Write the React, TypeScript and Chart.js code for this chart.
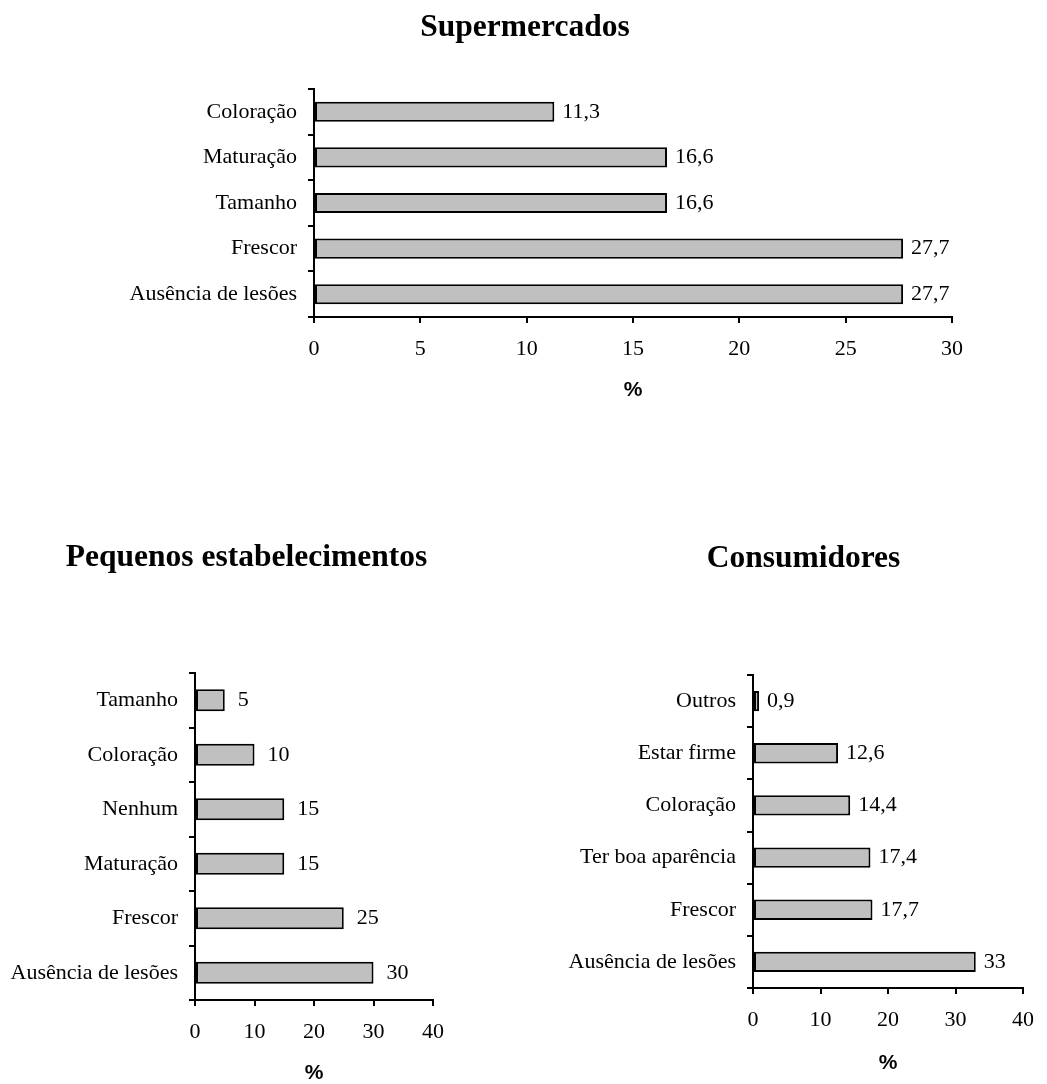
import React, { useEffect, useRef } from 'react';
import { Chart, registerables } from 'chart.js';

Chart.register(...registerables);

// ---------- data ----------
const superTitle = 'Supermercados';
const superLabels = ['Coloração', 'Maturação', 'Tamanho', 'Frescor', 'Ausência de lesões'];
const superValues = [11.3, 16.6, 16.6, 27.7, 27.7];
const superTicks = [0, 5, 10, 15, 20, 25, 30];

const pequenosTitle = 'Pequenos estabelecimentos';
const pequenosLabels = ['Tamanho', 'Coloração', 'Nenhum', 'Maturação', 'Frescor', 'Ausência de lesões'];
const pequenosValues = [5, 10, 15, 15, 25, 30];
const pequenosTicks = [0, 10, 20, 30, 40];

const consumTitle = 'Consumidores';
const consumLabels = ['Outros', 'Estar firme', 'Coloração', 'Ter boa aparência', 'Frescor', 'Ausência de lesões'];
const consumValues = [0.9, 12.6, 14.4, 17.4, 17.7, 33];
const consumTicks = [0, 10, 20, 30, 40];

const axisTitle = '%';

// ---------- styling ----------
const SERIF = '"Liberation Serif", "Times New Roman", serif';
const SANS = '"Liberation Sans", Arial, sans-serif';
const BAR_FILL = '#c0c0c0';

const fmt = (v: number) => String(v).replace('.', ',');

const panelTitlePlugin = {
  id: 'panelTitle',
  afterDraw(chart: any, _args: any, opts: any) {
    if (!opts || !opts.text) return;
    const ctx = chart.ctx;
    ctx.save();
    ctx.font = `bold 31.5px ${SERIF}`;
    ctx.fillStyle = '#000';
    ctx.textAlign = 'center';
    ctx.textBaseline = 'alphabetic';
    ctx.fillText(opts.text, opts.x, opts.y);
    ctx.restore();
  },
};

const valueLabelPlugin = {
  id: 'valueLabels',
  afterDatasetsDraw(chart: any, _args: any, opts: any) {
    const ctx = chart.ctx;
    const meta = chart.getDatasetMeta(0);
    const data = chart.data.datasets[0].data as number[];
    ctx.save();
    ctx.font = `22px ${SERIF}`;
    ctx.fillStyle = '#000';
    ctx.textAlign = 'left';
    ctx.textBaseline = 'middle';
    meta.data.forEach((bar: any, i: number) => {
      ctx.fillText(fmt(data[i]), bar.x + (opts?.offset ?? 8), bar.y);
    });
    ctx.restore();
  },
};

type PanelProps = {
  title: string;
  labels: string[];
  values: number[];
  ticks: number[];
  left: number;
  top: number;
  width: number;
  height: number;
  areaLeft: number; // chart area left relative to canvas
  areaRight: number;
  areaTop: number;
  areaBottom: number;
  titleX: number;
  titleY: number;
  pctPadBottom: number;
  barPct: number;
  labelOffset: number;
};

function Panel(p: PanelProps) {
  const ref = useRef<HTMLCanvasElement | null>(null);
  useEffect(() => {
    if (!ref.current) return;
    const step = p.ticks[1] - p.ticks[0];
    const chart = new Chart(ref.current, {
      type: 'bar',
      data: {
        labels: p.labels,
        datasets: [
          {
            data: p.values,
            backgroundColor: BAR_FILL,
            borderColor: '#000',
            borderWidth: 2,
            borderSkipped: false,
            barPercentage: p.barPct,
            categoryPercentage: 1,
          },
        ],
      },
      options: {
        indexAxis: 'y',
        responsive: false,
        animation: false,
        events: [],
        layout: {
          padding: {
            left: 0,
            top: p.areaTop,
            right: p.width - p.areaRight,
            bottom: 0,
          },
        },
        plugins: {
          legend: { display: false },
          tooltip: { enabled: false },
          title: { display: false },
          panelTitle: { text: p.title, x: p.titleX, y: p.titleY },
          valueLabels: { offset: p.labelOffset },
        } as any,
        scales: {
          x: {
            type: 'linear',
            min: p.ticks[0],
            max: p.ticks[p.ticks.length - 1],
            afterFit: (scale: any) => {
              scale.height = p.height - p.areaBottom;
            },
            ticks: {
              stepSize: step,
              color: '#000',
              padding: 13,
              font: { family: SERIF, size: 22 },
              callback: (v: any) => fmt(Number(v)),
            },
            grid: {
              display: true,
              drawOnChartArea: false,
              drawTicks: true,
              tickLength: 6,
              color: '#000',
              lineWidth: 2,
            },
            border: { display: true, color: '#000', width: 2 },
            title: {
              display: true,
              text: axisTitle,
              color: '#000',
              font: { family: SANS, size: 21, weight: 'bold' },
              padding: { top: 0, bottom: p.pctPadBottom },
            },
          },
          y: {
            type: 'category',
            afterFit: (scale: any) => {
              scale.width = p.areaLeft;
            },
            ticks: {
              color: '#000',
              padding: 11,
              font: { family: SERIF, size: 22 },
            },
            grid: {
              display: true,
              offset: true,
              drawOnChartArea: false,
              drawTicks: true,
              tickLength: 6,
              color: '#000',
              lineWidth: 2,
            },
            border: { display: true, color: '#000', width: 2 },
          },
        },
      } as any,
      plugins: [panelTitlePlugin as any, valueLabelPlugin as any],
    });
    return () => chart.destroy();
  }, []);
  return (
    <canvas
      ref={ref}
      width={p.width}
      height={p.height}
      style={{ position: 'absolute', left: p.left, top: p.top, width: p.width, height: p.height, display: 'block' }}
    />
  );
}

export default function App() {
  return (
    <div
      style={{
        position: 'absolute',
        left: 0,
        top: 0,
        width: 1047,
        height: 1084,
        overflow: 'hidden',
        background: '#fff',
      }}
    >
      <Panel
        title={superTitle}
        labels={superLabels}
        values={superValues}
        ticks={superTicks}
        left={0}
        top={0}
        width={1047}
        height={420}
        areaLeft={314}
        areaRight={952}
        areaTop={89}
        areaBottom={317}
        titleX={525}
        titleY={36}
        pctPadBottom={17}
        barPct={0.44}
        labelOffset={8}
      />
      <Panel
        title={pequenosTitle}
        labels={pequenosLabels}
        values={pequenosValues}
        ticks={pequenosTicks}
        left={0}
        top={520}
        width={523}
        height={580}
        areaLeft={195}
        areaRight={433}
        areaTop={153}
        areaBottom={480}
        titleX={246.5}
        titleY={46}
        pctPadBottom={14}
        barPct={0.4}
        labelOffset={13}
      />
      <Panel
        title={consumTitle}
        labels={consumLabels}
        values={consumValues}
        ticks={consumTicks}
        left={523}
        top={520}
        width={524}
        height={580}
        areaLeft={230}
        areaRight={510}
        areaTop={155}
        areaBottom={468}
        titleX={280.5}
        titleY={47}
        pctPadBottom={24}
        barPct={0.39}
        labelOffset={8}
      />
    </div>
  );
}
